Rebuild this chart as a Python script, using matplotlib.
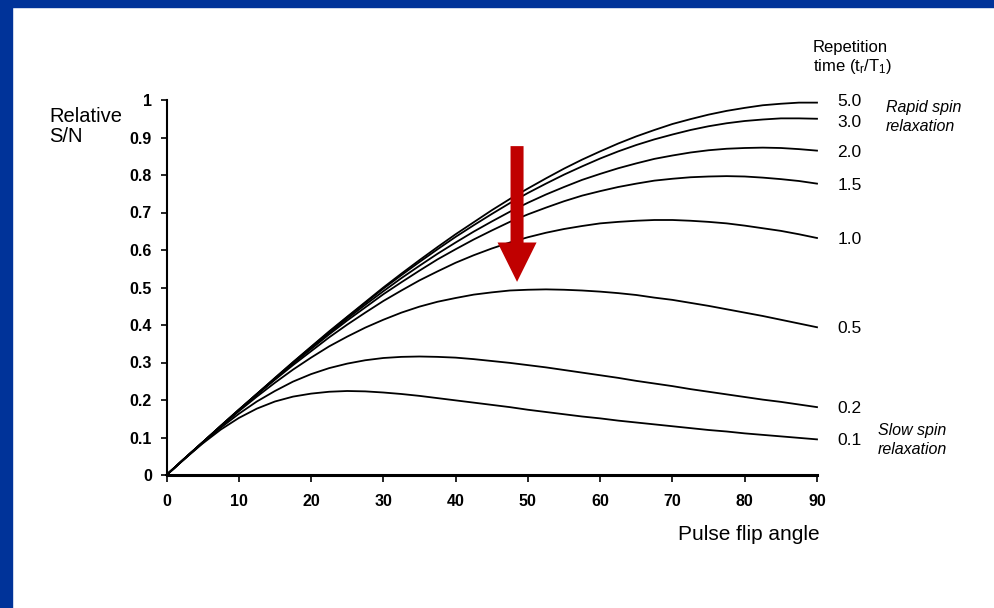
import matplotlib
matplotlib.use("Agg")
import matplotlib.pyplot as plt
from matplotlib.patches import Rectangle, FancyArrow

plt.rcParams["font.family"] = ["Liberation Sans", "DejaVu Sans"]
plt.rcParams["mathtext.fontset"] = "custom"
plt.rcParams["mathtext.rm"] = "Liberation Sans"
plt.rcParams["mathtext.default"] = "regular"

# flip angle (degrees), every 2.5 degrees
angles = [0, 2.5, 5, 7.5, 10, 12.5, 15, 17.5, 20, 22.5, 25, 27.5, 30, 32.5, 35, 37.5,
          40, 42.5, 45, 47.5, 50, 52.5, 55, 57.5, 60, 62.5, 65, 67.5, 70, 72.5, 75,
          77.5, 80, 82.5, 85, 87.5, 90]

# relative S/N, one list per repetition time (tr/T1)
sn_5_0 = [0, .044, .087, .131, .174, .216, .259, .301, .342, .383, .422, .461, .500,
          .537, .573, .608, .642, .674, .706, .736, .764, .791, .817, .841, .863, .884,
          .903, .920, .936, .949, .961, .971, .979, .986, .990, .993, .993]
sn_3_0 = [0, .044, .087, .131, .174, .216, .258, .300, .341, .381, .421, .459, .497,
          .533, .568, .602, .635, .666, .696, .725, .752, .777, .801, .823, .844, .863,
          .880, .895, .908, .920, .930, .938, .944, .948, .951, .951, .950]
sn_2_0 = [0, .044, .087, .130, .173, .216, .257, .299, .339, .378, .417, .454, .490,
          .525, .558, .590, .620, .649, .676, .702, .726, .748, .768, .787, .803, .818,
          .831, .843, .852, .860, .866, .870, .872, .873, .872, .869, .865]
sn_1_5 = [0, .044, .087, .130, .173, .215, .256, .297, .336, .375, .412, .447, .482,
          .514, .545, .575, .602, .628, .652, .675, .695, .713, .730, .745, .757, .768,
          .777, .785, .790, .794, .796, .797, .796, .793, .789, .784, .777]
sn_1_0 = [0, .044, .087, .130, .172, .214, .254, .293, .330, .367, .401, .433, .464,
          .492, .519, .543, .566, .586, .604, .620, .634, .646, .656, .664, .671, .675,
          .678, .680, .680, .678, .675, .671, .665, .658, .651, .642, .632]
sn_0_5 = [0, .044, .087, .129, .170, .209, .246, .281, .313, .343, .369, .393, .414,
          .433, .449, .462, .472, .481, .487, .492, .494, .495, .494, .492, .489, .485,
          .480, .473, .467, .459, .451, .442, .433, .424, .414, .404, .394]
sn_0_2 = [0, .043, .086, .126, .163, .196, .224, .249, .269, .285, .297, .306, .312,
          .315, .316, .315, .313, .309, .304, .299, .293, .287, .280, .273, .266, .259,
          .251, .244, .237, .229, .222, .215, .208, .201, .195, .188, .181]
sn_0_1 = [0, .043, .084, .121, .152, .177, .196, .209, .217, .222, .224, .223, .220,
          .216, .211, .205, .199, .193, .187, .181, .174, .168, .162, .156, .151, .145,
          .140, .135, .130, .125, .120, .116, .111, .107, .103, .099, .095]

series = [sn_5_0, sn_3_0, sn_2_0, sn_1_5, sn_1_0, sn_0_5, sn_0_2, sn_0_1]
series_labels = ["5.0", "3.0", "2.0", "1.5", "1.0", "0.5", "0.2", "0.1"]

x_ticks = [0, 10, 20, 30, 40, 50, 60, 70, 80, 90]
y_ticks = [0, 0.1, 0.2, 0.3, 0.4, 0.5, 0.6, 0.7, 0.8, 0.9, 1.0]
y_tick_labels = ["0", "0.1", "0.2", "0.3", "0.4", "0.5", "0.6", "0.7", "0.8", "0.9", "1"]

W, H = 994, 608
fig = plt.figure(figsize=(W / 100, H / 100), dpi=100)
fig.patch.set_facecolor("white")

# blue slide frame (top and left)
blue = "#003399"
fig.patches.append(Rectangle((0, 1 - 7 / H), 1, 7 / H, transform=fig.transFigure,
                             color=blue, zorder=0))
fig.patches.append(Rectangle((0, 0), 12 / W, 1, transform=fig.transFigure,
                             color=blue, zorder=0))

ax = fig.add_axes([166.5 / W, 1 - 475 / H, 650.5 / W, 375 / H])

# small vertical nudges so the two top labels don't collide
nudge = {"5.0": 0.006, "3.0": -0.006}
for ys, lab in zip(series, series_labels):
    ax.plot(angles, ys, color="black", lw=1.3, clip_on=False)
    ax.text(92.8, ys[-1] + nudge.get(lab, 0) - 0.004, lab, fontsize=12.5,
            ha="left", va="center")

ax.set_xlim(0, 90)
ax.set_ylim(0, 1)
ax.set_xticks(x_ticks)
ax.set_xticklabels([str(v) for v in x_ticks])
ax.set_yticks(y_ticks)
ax.set_yticklabels(y_tick_labels)
for lbl in ax.get_xticklabels() + ax.get_yticklabels():
    lbl.set_fontweight("bold")
    lbl.set_fontsize(11.5)
ax.tick_params(axis="x", length=5, width=1.2, pad=9, direction="out")
ax.tick_params(axis="y", length=4.5, width=1.2, pad=6, direction="out")

ax.spines["top"].set_visible(False)
ax.spines["right"].set_visible(False)
ax.spines["bottom"].set_linewidth(2.2)
ax.spines["left"].set_linewidth(1.5)

# red arrow pointing at the 0.5 curve
ax.add_patch(FancyArrow(48.5, 0.877, 0, -0.362, width=1.8, head_width=5.4,
                        head_length=0.105, length_includes_head=True,
                        color="#C00000", lw=0, zorder=5))

fig.text(49 / W, 1 - 107 / H, "Relative\nS/N", fontsize=14.5, ha="left", va="top",
         linespacing=1.1)
fig.text(820 / W, 1 - 540 / H, "Pulse flip angle", fontsize=15, ha="right",
         va="baseline")
fig.text(813 / W, 1 - 40 / H, "Repetition\ntime (t$_{r}$/T$_{1}$)", fontsize=12,
         ha="left", va="top", linespacing=1.15)
fig.text(886 / W, 1 - 100 / H, "Rapid spin\nrelaxation", fontsize=11.5, style="italic",
         ha="left", va="top", linespacing=1.3)
fig.text(878 / W, 1 - 423 / H, "Slow spin\nrelaxation", fontsize=11.5, style="italic",
         ha="left", va="top", linespacing=1.3)

fig.savefig("out.png", dpi=100)
